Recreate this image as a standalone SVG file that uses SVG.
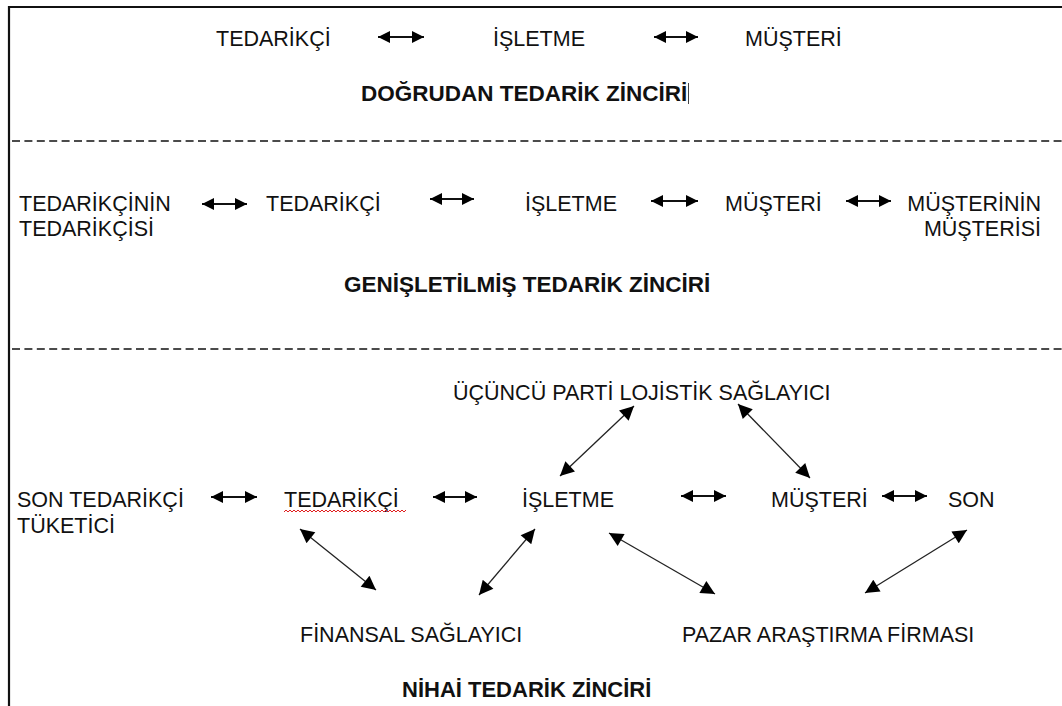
<svg xmlns="http://www.w3.org/2000/svg" width="1062" height="706" viewBox="0 0 1062 706">
<style>
text{font-family:"Liberation Sans",Arial,sans-serif;font-size:21.5px;fill:#111}
.b{font-weight:bold;font-size:22.5px}
.h{stroke:#111;stroke-width:2;fill:none;marker-start:url(#hs);marker-end:url(#hs)}
.d{stroke:#222;stroke-width:1.3;fill:none;marker-start:url(#ds);marker-end:url(#ds)}
.dash{stroke:#111;stroke-width:1.4;stroke-dasharray:8 4.4;fill:none}
</style>
<defs>
<marker id="hs" viewBox="0 0 10 10" refX="10" refY="5" markerUnits="userSpaceOnUse" markerWidth="13" markerHeight="12" orient="auto-start-reverse"><path d="M0,0 L10,5 L0,10 z" fill="#000"/></marker>
<marker id="ds" viewBox="0 0 10 10" refX="10" refY="5" markerUnits="userSpaceOnUse" markerWidth="16" markerHeight="14" orient="auto-start-reverse"><path d="M0,0 L10,5 L0,10 z" fill="#000"/></marker>
</defs>
<rect width="1062" height="706" fill="#fff"/>
<g id="frame">
<path d="M9,706 V7 H1062" stroke="#111" stroke-width="2.2" fill="none"/>
<line class="dash" x1="12" y1="141" x2="1062" y2="141"/>
<line class="dash" x1="12" y1="349" x2="1062" y2="349"/>
</g>
<g id="s1-tedarikci"><text x="216" y="46">TEDARİKÇİ</text></g>
<g id="s1-isletme"><text x="493" y="46">İŞLETME</text></g>
<g id="s1-musteri"><text x="745" y="46">MÜŞTERİ</text></g>
<g id="s1-title"><text class="b" x="361" y="101">DOĞRUDAN TEDARİK ZİNCİRİ</text><line x1="688.5" y1="83" x2="688.5" y2="104" stroke="#444" stroke-width="1"/></g>
<g id="s2-tt"><text x="19" y="211">TEDARİKÇİNİN</text><text x="19" y="236">TEDARİKÇİSİ</text></g>
<g id="s2-tedarikci"><text x="266" y="211">TEDARİKÇİ</text></g>
<g id="s2-isletme"><text x="525" y="211">İŞLETME</text></g>
<g id="s2-musteri"><text x="725" y="211">MÜŞTERİ</text></g>
<g id="s2-mm"><text x="1041" y="211" text-anchor="end">MÜŞTERİNİN</text><text x="1041" y="236" text-anchor="end">MÜŞTERİSİ</text></g>
<g id="s2-title"><text class="b" x="344" y="292">GENİŞLETİLMİŞ TEDARİK ZİNCİRİ</text></g>
<g id="s3-3pl"><text x="453" y="400">ÜÇÜNCÜ PARTİ LOJİSTİK SAĞLAYICI</text></g>
<g id="s3-son-ted"><text x="17" y="507">SON TEDARİKÇİ</text><text x="17" y="533">TÜKETİCİ</text></g>
<g id="s3-tedarikci"><text x="284" y="507">TEDARİKÇİ</text><path d="M284,512 l2,-2 l2,2 l2,-2 l2,2 l2,-2 l2,2 l2,-2 l2,2 l2,-2 l2,2 l2,-2 l2,2 l2,-2 l2,2 l2,-2 l2,2 l2,-2 l2,2 l2,-2 l2,2 l2,-2 l2,2 l2,-2 l2,2 l2,-2 l2,2 l2,-2 l2,2 l2,-2 l2,2 l2,-2 l2,2 l2,-2 l2,2 l2,-2 l2,2 l2,-2 l2,2 l2,-2 l2,2 l2,-2 l2,2 l2,-2 l2,2 l2,-2 l2,2 l2,-2 l2,2 l2,-2 l2,2 l2,-2 l2,2 l2,-2 l2,2 l2,-2 l2,2 l2,-2 l2,2 l2,-2 l2,2 l2,-2" stroke="#e02020" stroke-width="1" fill="none"/></g>
<g id="s3-isletme"><text x="522" y="507">İŞLETME</text></g>
<g id="s3-musteri"><text x="771" y="507">MÜŞTERİ</text></g>
<g id="s3-son"><text x="948" y="507">SON</text></g>
<g id="s3-finans"><text x="300" y="642">FİNANSAL SAĞLAYICI</text></g>
<g id="s3-pazar"><text x="682" y="642">PAZAR ARAŞTIRMA FİRMASI</text></g>
<g id="s3-title"><text class="b" x="402" y="697" style="font-size:22px">NİHAİ TEDARİK ZİNCİRİ</text></g>
<g id="connectors">
<line class="h" x1="378" y1="37" x2="424" y2="37"/>
<line class="h" x1="654" y1="37" x2="698" y2="37"/>
<line class="h" x1="202" y1="204" x2="247" y2="204"/>
<line class="h" x1="430" y1="199" x2="474" y2="199"/>
<line class="h" x1="651" y1="201" x2="698" y2="201"/>
<line class="h" x1="846" y1="201" x2="891" y2="201"/>
<line class="h" x1="211" y1="497" x2="257" y2="497"/>
<line class="h" x1="433" y1="497" x2="477" y2="497"/>
<line class="h" x1="681" y1="496" x2="726" y2="496"/>
<line class="h" x1="882" y1="496" x2="927" y2="496"/>
<line class="d" x1="634" y1="406" x2="560" y2="476"/>
<line class="d" x1="738" y1="404" x2="810" y2="478"/>
<line class="d" x1="300" y1="529" x2="376" y2="590"/>
<line class="d" x1="535" y1="529" x2="479" y2="595"/>
<line class="d" x1="609" y1="533" x2="715" y2="594"/>
<line class="d" x1="967" y1="530" x2="865" y2="593"/>
</g>
</svg>
